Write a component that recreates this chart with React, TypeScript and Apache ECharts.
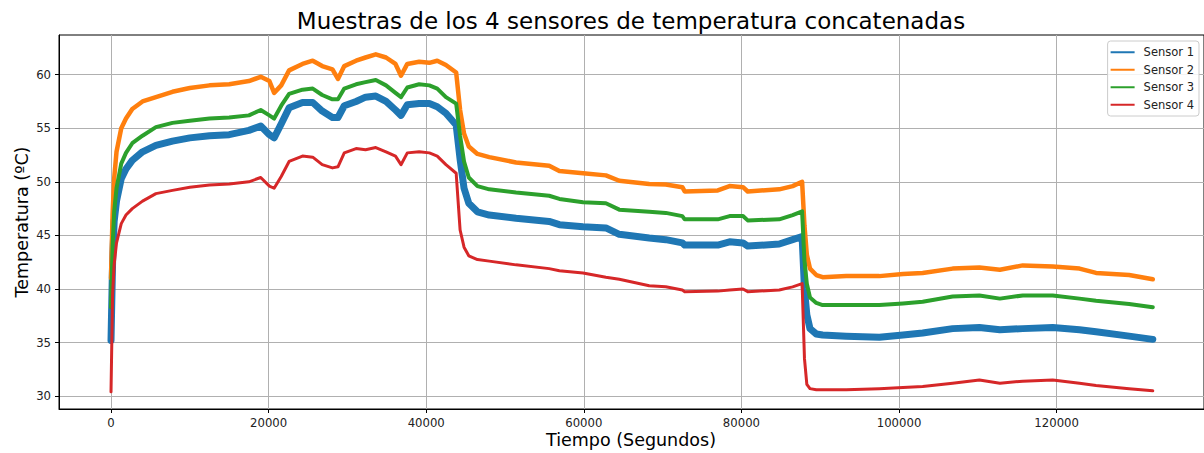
import { useEffect, useRef } from "react";
import * as echarts from "echarts";

// Time samples (seconds)
const times = [
  0, 200, 400, 700, 1300, 1900, 2700, 4000, 5700, 7800, 10000, 12500, 15000, 17500, 19000, 20100, 20700,
  21600, 22600, 24300, 25600, 26800, 28100, 28800, 29600, 31100, 32300, 33600, 34900, 36100, 36800,
  37600, 39100, 40400, 41400, 42500, 43800, 44300, 44800, 45400, 46500, 48000, 51400, 55600, 56900,
  59900, 62800, 64500, 68300, 70400, 72500, 72800, 77000, 78500, 80200, 80800, 84800, 86500, 87700,
  88000, 88300, 88700, 89500, 90300, 93300, 97500, 100500, 103000, 106800, 110200, 112800, 115700,
  119500, 122900, 125000, 129200, 132200,
];

const sensor1 = [
  35.2, 42.5, 46.3, 48.2, 50.3, 51.2, 52.0, 52.8, 53.4, 53.8, 54.1, 54.3, 54.4, 54.8, 55.2, 54.4, 54.1,
  55.4, 56.9, 57.4, 57.4, 56.6, 56.0, 56.0, 57.1, 57.5, 57.9, 58.0, 57.5, 56.7, 56.2,
  57.2, 57.3, 57.3, 57.0, 56.4, 55.3, 52.1, 49.4, 48.0, 47.2, 46.9, 46.6, 46.3, 46.0,
  45.8, 45.7, 45.1, 44.75, 44.6, 44.3, 44.1, 44.1, 44.4, 44.3, 44.0, 44.2, 44.6, 44.9,
  40.0, 37.6, 36.3, 35.8, 35.7, 35.6, 35.5, 35.7, 35.9, 36.3, 36.4, 36.2, 36.3,
  36.4, 36.2, 36.0, 35.6, 35.3,
];

const sensor2 = [
  41.0, 47.0, 50.3, 52.8, 55.0, 55.9, 56.8, 57.5, 57.9, 58.4, 58.75, 59.0, 59.1, 59.4, 59.8, 59.4, 58.3,
  59.0, 60.4, 61.0, 61.3, 60.8, 60.5, 59.6, 60.8, 61.3, 61.6, 61.9, 61.6, 61.0, 59.9,
  61.0, 61.2, 61.1, 61.3, 60.9, 60.2, 56.7, 54.5, 53.3, 52.6, 52.3, 51.8, 51.5, 51.0,
  50.8, 50.6, 50.1, 49.8, 49.75, 49.5, 49.1, 49.2, 49.6, 49.5, 49.1, 49.3, 49.6, 50.0,
  45.9, 43.2, 41.9, 41.3, 41.1, 41.2, 41.2, 41.4, 41.5, 41.9, 42.0, 41.8, 42.2,
  42.1, 41.9, 41.5, 41.3, 40.9,
];

const sensor3 = [
  38.3, 44.0, 47.2, 49.4, 51.7, 52.7, 53.6, 54.3, 55.1, 55.5, 55.7, 55.9, 56.0, 56.2, 56.7, 56.2, 55.9,
  57.1, 58.2, 58.6, 58.7, 58.1, 57.7, 57.7, 58.7, 59.1, 59.3, 59.5, 59.0, 58.3, 57.9,
  58.8, 59.1, 59.0, 58.7, 57.9, 57.3, 54.3, 51.9, 50.4, 49.6, 49.3, 49.0, 48.7, 48.4,
  48.1, 48.0, 47.4, 47.2, 47.1, 46.8, 46.5, 46.5, 46.8, 46.8, 46.4, 46.5, 46.9, 47.25,
  42.6, 40.5, 39.2, 38.7, 38.5, 38.5, 38.5, 38.65, 38.8, 39.3, 39.4, 39.1, 39.4,
  39.4, 39.1, 38.9, 38.6, 38.3,
];

const sensor4 = [
  30.4, 39.5, 42.3, 44.3, 46.1, 46.9, 47.5, 48.2, 48.9, 49.2, 49.5, 49.7, 49.8, 50.0, 50.4, 49.6, 49.4,
  50.5, 51.9, 52.4, 52.3, 51.6, 51.3, 51.4, 52.7, 53.1, 53.0, 53.2, 52.8, 52.4, 51.6,
  52.7, 52.8, 52.7, 52.4, 51.6, 50.8, 45.5, 43.9, 43.1, 42.75, 42.6, 42.25, 41.9, 41.7,
  41.5, 41.1, 40.9, 40.3, 40.2, 39.9, 39.75, 39.8, 39.9, 40.0, 39.75, 39.9, 40.2, 40.5,
  33.5, 31.1, 30.7, 30.6, 30.6, 30.6, 30.7, 30.8, 30.9, 31.2, 31.5, 31.2, 31.4,
  31.5, 31.2, 31.0, 30.7, 30.5,
];

const seriesNames = ["Sensor 1", "Sensor 2", "Sensor 3", "Sensor 4"];
const seriesValues = [sensor1, sensor2, sensor3, sensor4];
const seriesColors = ["#1f77b4", "#ff7f0e", "#2ca02c", "#d62728"];
const lineWidths = [7, 4.5, 4, 3];

const xTicks = [0, 20000, 40000, 60000, 80000, 100000, 120000];
const yTicks = [30, 35, 40, 45, 50, 55, 60];

const titleText = "Muestras de los 4 sensores de temperatura concatenadas";
const xName = "Tiempo (Segundos)";
const yName = "Temperatura (ºC)";

const FONT = "DejaVu Sans";

export default function App() {
  const ref = useRef<HTMLDivElement>(null);

  useEffect(() => {
    document.body.style.margin = "0";
    const chart = echarts.init(ref.current!, null, { renderer: "svg" });

    const series = seriesNames.map((name, i) => ({
      name,
      type: "line",
      data: times.map((t, k) => [t, seriesValues[i][k]]),
      showSymbol: false,
      symbol: "none",
      color: seriesColors[i],
      lineStyle: { color: seriesColors[i], width: lineWidths[i], join: "round", cap: "round" },
      emphasis: { disabled: true },
      silent: true,
    }));

    chart.setOption({
      animation: false,
      backgroundColor: "#ffffff",
      textStyle: { fontFamily: FONT },
      grid: {
        left: 59,
        right: 0,
        top: 35,
        bottom: 44,
        show: true,
        borderColor: "#000",
        borderWidth: 1,
        backgroundColor: "transparent",
        containLabel: false,
        outerBoundsMode: "none",
      },
      legend: {
        data: seriesNames,
        orient: "vertical",
        right: 5,
        top: 41,
        icon: "rect",
        itemWidth: 24,
        itemHeight: 2,
        itemGap: 3,
        padding: [4, 5, 4, 3],
        backgroundColor: "rgba(255,255,255,0.85)",
        borderColor: "#cccccc",
        borderWidth: 1,
        borderRadius: 3,
        textStyle: {
          fontFamily: FONT,
          fontSize: 11.5,
          color: "#222",
          lineHeight: 14.5,
          padding: [0, 0, 0, 4],
        },
        selectedMode: false,
      },
      xAxis: {
        type: "value",
        min: -6600,
        max: 138700,
        splitNumber: 7,
        axisLine: { show: true, onZero: false, lineStyle: { color: "#000", width: 1 } },
        axisTick: { show: true, length: 4, customValues: xTicks, lineStyle: { color: "#000", width: 1 } },
        axisLabel: {
          customValues: xTicks,
          formatter: (v: number) => String(v),
          color: "#222",
          fontSize: 11.7,
          fontFamily: FONT,
          margin: 8,
        },
        splitLine: { show: true, lineStyle: { color: "#b0b0b0", width: 1 } },
      },
      yAxis: {
        type: "value",
        min: 28.8,
        max: 63.7,
        splitNumber: 7,
        axisLine: { show: true, onZero: false, lineStyle: { color: "#000", width: 1 } },
        axisTick: { show: true, length: 4, customValues: yTicks, lineStyle: { color: "#000", width: 1 } },
        axisLabel: {
          customValues: yTicks,
          formatter: (v: number) => String(Math.round(v)),
          color: "#222",
          fontSize: 11.7,
          fontFamily: FONT,
          margin: 8,
        },
        splitLine: { show: true, lineStyle: { color: "#b0b0b0", width: 1 } },
      },
      graphic: [
        {
          type: "text",
          x: 631,
          y: 21,
          style: {
            text: titleText,
            fontFamily: FONT,
            fontSize: 23,
            fill: "#000",
            textAlign: "center",
            textVerticalAlign: "middle",
          },
        },
        {
          type: "text",
          x: 631,
          y: 440,
          style: {
            text: xName,
            fontFamily: FONT,
            fontSize: 17.5,
            fill: "#000",
            textAlign: "center",
            textVerticalAlign: "middle",
          },
        },
        {
          type: "text",
          x: 22,
          y: 222,
          rotation: Math.PI / 2,
          style: {
            text: yName,
            fontFamily: FONT,
            fontSize: 17.5,
            fill: "#000",
            textAlign: "center",
            textVerticalAlign: "middle",
          },
        },
      ],
      series,
    });

    return () => chart.dispose();
  }, []);

  return <div ref={ref} style={{ width: 1204, height: 453 }} />;
}
